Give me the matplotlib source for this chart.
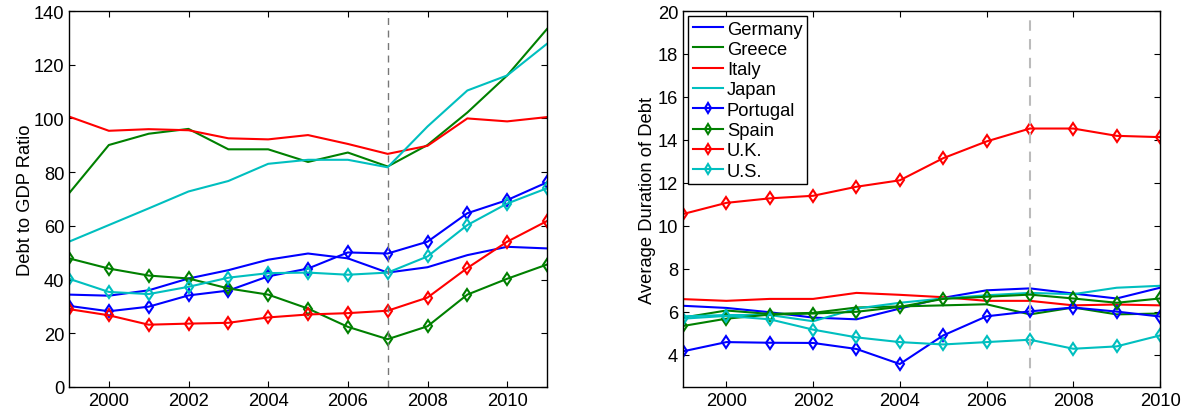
import matplotlib
matplotlib.use("Agg")
import matplotlib.pyplot as plt

plt.rcParams['font.family'] = ['Liberation Sans', 'DejaVu Sans']

countries = ["Germany", "Greece", "Italy", "Japan", "Portugal", "Spain", "U.K.", "U.S."]
colors = ["#0000ff", "#008000", "#ff0000", "#00bfbf", "#0000ff", "#008000", "#ff0000", "#00bfbf"]
has_marker = [False, False, False, False, True, True, True, True]

years_left = list(range(1999, 2012))
years_right = list(range(1999, 2011))

# Debt to GDP ratio (1999-2011)
debt_germany = [34.4, 34.0, 36.0, 40.4, 43.5, 47.4, 49.7, 47.9, 42.6, 44.6, 49.1, 52.2, 51.6]
debt_greece = [72.1, 90.1, 94.3, 96.1, 88.5, 88.5, 83.8, 87.3, 82.1, 90.1, 102.2, 116.0, 133.3]
debt_italy = [100.7, 95.4, 96.0, 95.6, 92.6, 92.2, 93.8, 90.5, 86.8, 89.8, 100.0, 98.9, 100.5]
debt_japan = [54.1, 60.3, 66.5, 72.8, 76.7, 83.1, 84.6, 84.6, 81.8, 97.0, 110.4, 116.0, 127.8]
debt_portugal = [30.2, 28.2, 29.9, 34.1, 35.9, 41.2, 44.1, 50.1, 49.7, 54.1, 64.7, 69.6, 76.2]
debt_spain = [47.9, 44.1, 41.5, 40.4, 36.7, 34.4, 29.2, 22.4, 17.8, 22.6, 34.4, 40.3, 45.6]
debt_uk = [29.0, 26.7, 23.2, 23.6, 23.9, 25.9, 27.0, 27.5, 28.4, 33.3, 44.3, 54.1, 61.8]
debt_us = [40.3, 35.4, 34.6, 37.3, 40.7, 42.4, 42.6, 41.8, 42.6, 48.6, 60.3, 68.3, 74.0]

# Average duration of debt (1999-2010)
dur_germany = [6.28, 6.18, 5.98, 5.73, 5.65, 6.15, 6.65, 7.00, 7.09, 6.85, 6.62, 7.12]
dur_greece = [5.73, 6.06, 5.90, 5.95, 6.20, 6.25, 6.30, 6.35, 5.88, 6.20, 5.88, 5.92]
dur_italy = [6.59, 6.51, 6.60, 6.60, 6.88, 6.79, 6.68, 6.51, 6.51, 6.30, 6.34, 6.30]
dur_japan = [5.79, 5.85, 5.85, 5.56, 6.15, 6.42, 6.62, 6.77, 6.88, 6.82, 7.12, 7.21]
dur_portugal = [4.16, 4.59, 4.56, 4.55, 4.27, 3.57, 4.90, 5.79, 6.02, 6.20, 6.01, 5.78]
dur_spain = [5.34, 5.68, 5.87, 5.92, 6.00, 6.23, 6.60, 6.70, 6.80, 6.62, 6.42, 6.62]
dur_uk = [10.55, 11.07, 11.28, 11.40, 11.82, 12.12, 13.15, 13.93, 14.53, 14.53, 14.19, 14.13]
dur_us = [5.68, 5.81, 5.65, 5.17, 4.81, 4.59, 4.48, 4.59, 4.70, 4.28, 4.39, 4.90]

debt_series = [debt_germany, debt_greece, debt_italy, debt_japan,
               debt_portugal, debt_spain, debt_uk, debt_us]
dur_series = [dur_germany, dur_greece, dur_italy, dur_japan,
              dur_portugal, dur_spain, dur_uk, dur_us]

fig = plt.figure(figsize=(11.94, 4.14), dpi=100)
ax1 = fig.add_axes([69 / 1194, 1 - 388 / 414, 478 / 1194, 376 / 414])
ax2 = fig.add_axes([683 / 1194, 1 - 388 / 414, 477 / 1194, 376 / 414])

FS = 13.2

def draw(ax, years, series):
    for name, col, mk, vals in zip(countries, colors, has_marker, series):
        if mk:
            ax.plot(years, vals, color=col, lw=1.5, marker='d', markersize=6.5,
                    markerfacecolor='none', markeredgecolor=col, markeredgewidth=1.5,
                    label=name)
        else:
            ax.plot(years, vals, color=col, lw=1.5, label=name)
    ax.tick_params(direction='in', top=True, right=True, labelsize=FS, length=4, width=0.8)
    for sp in ax.spines.values():
        sp.set_linewidth(1.0)

draw(ax1, years_left, debt_series)
ax1.axvline(2007, color='#777777', lw=1.0, ls=(0, (5, 4)))
ax1.set_xlim(1999, 2011)
ax1.set_ylim(0, 140)
ax1.set_xticks([2000, 2002, 2004, 2006, 2008, 2010])
ax1.set_yticks(range(0, 141, 20))
ax1.set_ylabel("Debt to GDP Ratio", fontsize=FS, labelpad=0)

draw(ax2, years_right, dur_series)
ax2.axvline(2007, color='#bbbbbb', lw=1.5, ls=(0, (5, 4)))
ax2.set_xlim(1999, 2010)
ax2.set_ylim(2.5, 20)
ax2.set_xticks([2000, 2002, 2004, 2006, 2008, 2010])
ax2.set_yticks(range(4, 21, 2))
ax2.set_ylabel("Average Duration of Debt", fontsize=FS, labelpad=1)
leg = ax2.legend(loc='upper left', fontsize=FS, fancybox=False, framealpha=1,
                 edgecolor='black', borderpad=0.25, labelspacing=0.18,
                 handlelength=1.65, handletextpad=0.22, borderaxespad=0.27,
                 markerscale=0.75)
leg.get_frame().set_linewidth(1.0)

fig.savefig("out.png", dpi=100)
